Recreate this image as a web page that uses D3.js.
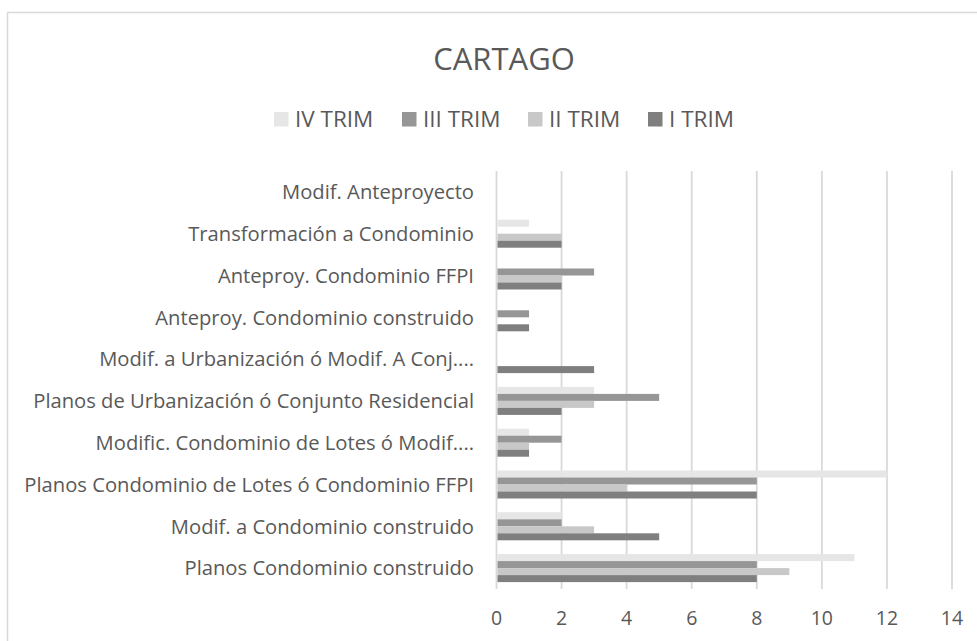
<!DOCTYPE html>
<html>
<head>
<meta charset="utf-8">
<script src="https://cdn.jsdelivr.net/npm/d3@7"></script>
<style>
  body { margin: 0; background: #fff; }
  text { font-family: "Open Sans", sans-serif; fill: #595959; }
</style>
</head>
<body>
<svg id="chart"></svg>
<script>
const WIDTH = 977;
const HEIGHT = 641;

// categories, top to bottom as shown
const categories = [
  "Modif. Anteproyecto",
  "Transformación a Condominio",
  "Anteproy. Condominio FFPI",
  "Anteproy. Condominio construido",
  "Modif. a Urbanización ó Modif. A Conj....",
  "Planos de Urbanización ó Conjunto Residencial",
  "Modific. Condominio de Lotes ó Modif....",
  "Planos Condominio de Lotes ó Condominio FFPI",
  "Modif. a Condominio construido",
  "Planos Condominio construido"
];

const seriesNames = ["IV TRIM", "III TRIM", "II TRIM", "I TRIM"];
const seriesColors = ["#E6E6E6", "#969696", "#C8C8C8", "#7F7F7F"];

const ivTrim  = [0, 1, 0, 0, 0, 3, 1, 12, 2, 11];
const iiiTrim = [0, 0, 3, 1, 0, 5, 2, 8, 2, 8];
const iiTrim  = [0, 2, 2, 0, 0, 3, 1, 4, 3, 9];
const iTrim   = [0, 2, 2, 1, 3, 2, 1, 8, 5, 8];

const xTicks = [0, 2, 4, 6, 8, 10, 12, 14];

const seriesValues = [ivTrim, iiiTrim, iiTrim, iTrim];

const svg = d3.select('#chart')
  .attr('width', WIDTH)
  .attr('height', HEIGHT);

// chart frame, cut off on the right and bottom like the picture
svg.append('rect')
  .attr('x', 7.5).attr('y', 12.5)
  .attr('width', 1000).attr('height', 660)
  .attr('fill', '#fff')
  .attr('stroke', '#D9D9D9')
  .attr('stroke-width', 1.5);

const x = d3.scaleLinear().domain([0, 14]).range([496.5, 952]);
const y = d3.scaleBand()
  .domain(categories)
  .range([171, 589])
  .paddingInner(0.33)
  .paddingOuter(0.165);
const ySeries = d3.scaleBand()
  .domain(seriesNames)
  .range([0, y.bandwidth()]);

// title
svg.append('text')
  .attr('x', 504).attr('y', 70)
  .attr('text-anchor', 'middle')
  .style('font-size', '31px')
  .text('CARTAGO');

// legend
const legendX = [274, 402, 528, 648];
const legend = svg.append('g').selectAll('g')
  .data(seriesNames)
  .join('g')
  .attr('transform', (d, i) => `translate(${legendX[i]},112)`);
legend.append('rect')
  .attr('width', 14.5).attr('height', 14.5)
  .attr('fill', (d, i) => seriesColors[i]);
legend.append('text')
  .attr('x', 21).attr('y', 14.7)
  .style('font-size', '22.5px')
  .text(d => d);

// grid lines
svg.append('g')
  .selectAll('line')
  .data(xTicks)
  .join('line')
  .attr('x1', d => x(d)).attr('x2', d => x(d))
  .attr('y1', 171).attr('y2', 589)
  .attr('stroke', '#D9D9D9')
  .attr('stroke-width', 1.8);

// bars
const groups = svg.append('g')
  .selectAll('g')
  .data(categories)
  .join('g')
  .attr('transform', d => `translate(0,${y(d)})`);

groups.selectAll('rect')
  .data((d, ci) => seriesNames.map((s, si) => ({ s, si, v: seriesValues[si][ci] })))
  .join('rect')
  .filter(d => d.v > 0)
  .attr('x', x(0) + 1)
  .attr('y', d => ySeries(d.s))
  .attr('width', d => x(d.v) - x(0) - 1)
  .attr('height', ySeries.bandwidth())
  .attr('fill', d => seriesColors[d.si]);

// category labels
svg.append('g')
  .selectAll('text')
  .data(categories)
  .join('text')
  .attr('x', 474)
  .attr('y', d => y(d) + y.bandwidth() / 2)
  .attr('dy', '0.36em')
  .attr('text-anchor', 'end')
  .style('font-size', '20.2px')
  .text(d => d);

// x tick labels
svg.append('g')
  .selectAll('text')
  .data(xTicks)
  .join('text')
  .attr('x', d => x(d))
  .attr('y', 625)
  .attr('text-anchor', 'middle')
  .style('font-size', '19.5px')
  .text(d => d);
</script>
</body>
</html>
